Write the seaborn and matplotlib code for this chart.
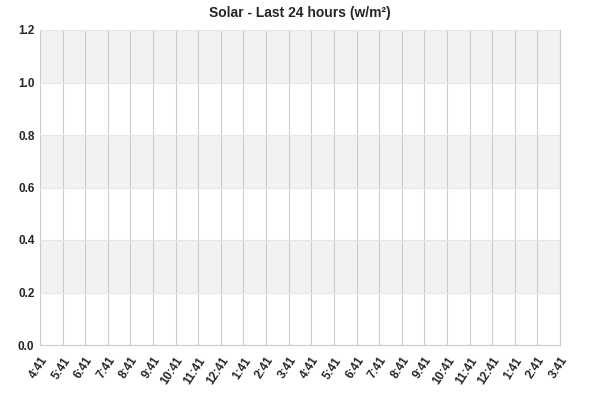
import numpy as np
import pandas as pd
import seaborn as sns
import matplotlib.pyplot as plt

# time labels for the last 24 hours, chart has no readings
hours = ["4:41", "5:41", "6:41", "7:41", "8:41", "9:41", "10:41", "11:41",
         "12:41", "1:41", "2:41", "3:41", "4:41", "5:41", "6:41", "7:41",
         "8:41", "9:41", "10:41", "11:41", "12:41", "1:41", "2:41", "3:41"]
solar = [np.nan] * len(hours)
y_ticks = [0.0, 0.2, 0.4, 0.6, 0.8, 1.0, 1.2]

df = pd.DataFrame({"pos": range(len(hours)), "solar": solar})

sns.set_style("white")
plt.rcParams['font.family'] = ['Liberation Sans', 'DejaVu Sans']

fig = plt.figure(figsize=(6, 4), dpi=100)
ax = fig.add_axes([40/600, 55/400, 520/600, 315/400])

sns.lineplot(x="pos", y="solar", data=df, ax=ax)

# alternating bands
for i in range(len(y_ticks) - 1):
    if i % 2 == 1:
        ax.axhspan(y_ticks[i], y_ticks[i+1], color="#f2f2f2", zorder=0, lw=0)

ax.set_xlim(0, len(hours) - 1)
ax.set_ylim(0, 1.2)
ax.set_xticks(range(len(hours)))
ax.set_xticklabels(hours, rotation=57, ha="right", rotation_mode="anchor",
                   fontsize=8.5, fontweight="bold")
ax.set_yticks(y_ticks)
ax.set_yticklabels([f"{v:.1f}" for v in y_ticks], fontsize=8.5, fontweight="bold")
ax.tick_params(axis="x", length=0, pad=7)
ax.tick_params(axis="y", length=0, pad=4)
ax.xaxis.grid(True, color="#cccccc", lw=0.8)
ax.yaxis.grid(True, color="#e6e6e6", lw=0.8)
ax.set_axisbelow(True)
ax.set_xlabel("")
ax.set_ylabel("")
for s in ["top", "left"]:
    ax.spines[s].set_visible(False)
ax.spines["bottom"].set_color("#cccccc")
ax.spines["right"].set_color("#cccccc")

fig.suptitle("Solar - Last 24 hours (w/m²)", y=0.985, fontsize=10, fontweight="bold")
fig.savefig("out.png", dpi=100)
